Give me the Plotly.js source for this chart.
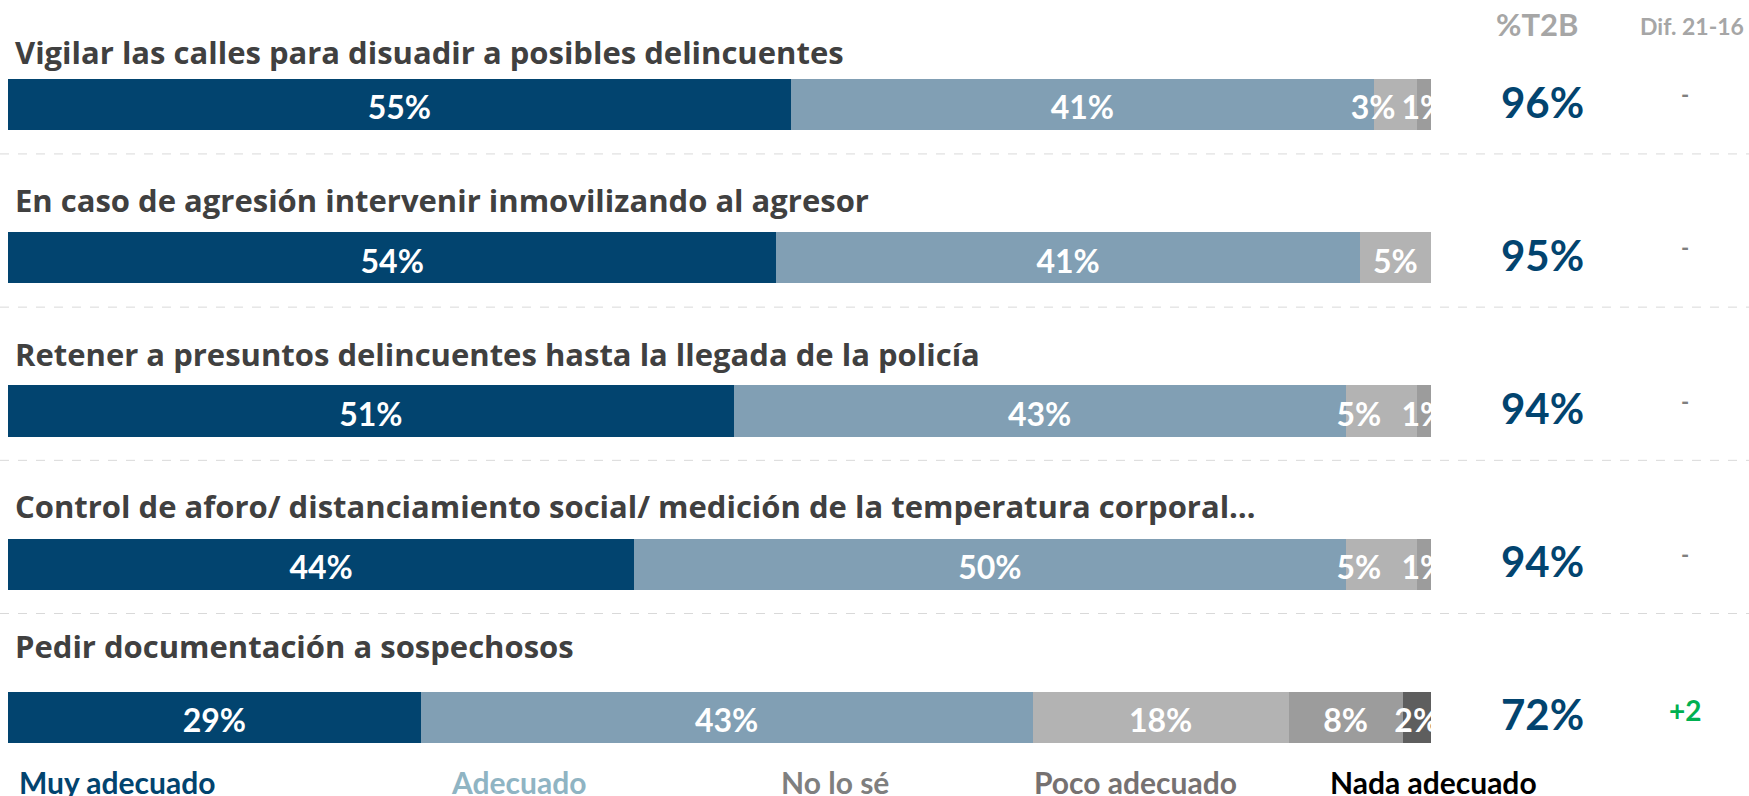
<!DOCTYPE html>
<html>
<head>
<meta charset="utf-8">
<script src="https://cdn.plot.ly/plotly-3.0.1.min.js"></script>
<style>
  html, body { margin: 0; padding: 0; background: #ffffff; }
  #chart { width: 1749px; height: 796px; }
</style>
</head>
<body>
<div id="chart"></div>
<script>
// ---- data ----
const categories = [
  "Vigilar las calles para disuadir a posibles delincuentes",
  "En caso de agresión intervenir inmovilizando al agresor",
  "Retener a presuntos delincuentes hasta la llegada de la policía",
  "Control de aforo/ distanciamiento social/ medición de la temperatura corporal…",
  "Pedir documentación a sospechosos"
];
const seriesNames = ["Muy adecuado", "Adecuado", "No lo sé", "Poco adecuado", "Nada adecuado"];
const muyAdecuado  = [55, 54, 51, 44, 29];
const adecuado     = [41, 41, 43, 50, 43];
const noLoSe       = [3, 5, 5, 5, 18];
const pocoAdecuado = [1, 0, 1, 1, 8];
const nadaAdecuado = [0, 0, 0, 0, 2];
const t2b = [96, 95, 94, 94, 72];
const dif = ["-", "-", "-", "-", "+2"];
const headerT2B = "%T2B";
const headerDif = "Dif. 21-16";

// ---- styling ----
const FONT = "Lato, 'Open Sans', sans-serif";
const TITLE_FONT = "'Open Sans', Lato, sans-serif";
const barColors = ["#02446F", "#819FB4", "#B3B3B3", "#9C9C9C", "#5E5E5E"];
const legendColors = ["#02446F", "#8FB4C3", "#7F7F7F", "#767171", "#000000"];
const labelPositions = [
  ["middle center","middle center","middle center","middle center","middle center"],
  ["middle center","middle center","middle center","middle center","middle center"],
  ["middle left","middle center","middle left","middle left","middle center"],
  ["middle center","middle center","middle center","middle center","middle center"],
  ["middle center","middle center","middle center","middle center","middle center"]
];
const titleShift = [53, 58, 57, 58, 71];
const legendX = [0.0773, 0.3584, 0.5812, 0.792, 1.0021];
const labelDrop = 0.045; // small downward nudge of value labels (axis units)

const allSeries = [muyAdecuado, adecuado, noLoSe, pocoAdecuado, nadaAdecuado];
const traces = [];

// stacked bars
allSeries.forEach((vals, s) => {
  traces.push({
    type: "bar", orientation: "h",
    y: categories, x: vals, name: seriesNames[s],
    marker: { color: barColors[s], line: { width: 0 } },
    hoverinfo: "x+name", showlegend: false
  });
});

// value labels (text traces clipped to the plot area), drawn on an overlaid linear axis
const cum = categories.map(() => 0);
allSeries.forEach((vals, s) => {
  const xs = [], ys = [], ts = [], ps = [];
  vals.forEach((v, i) => {
    if (v > 0) {
      xs.push(cum[i] + v / 2);
      ys.push(i + labelDrop);
      ts.push(v + "%");
      ps.push(labelPositions[s][i]);
    }
    cum[i] += v;
  });
  traces.push({
    type: "scatter", mode: "text", x: xs, y: ys, yaxis: "y2", text: ts,
    textposition: ps, cliponaxis: true, hoverinfo: "skip", showlegend: false,
    textfont: { family: FONT, size: 32, color: "#ffffff", weight: "bold" }
  });
});

const annotations = [];
categories.forEach((c, i) => {
  annotations.push({
    xref: "paper", yref: "y", x: 0.0035, y: i, yshift: titleShift[i],
    xanchor: "left", yanchor: "middle", showarrow: false, text: c,
    font: { family: TITLE_FONT, size: 31, color: "#404040", weight: "bold" }
  });
  annotations.push({
    xref: "paper", yref: "y", x: 1.0785, y: i, yshift: 3,
    xanchor: "center", yanchor: "middle", showarrow: false, text: t2b[i] + "%",
    font: { family: FONT, size: 42, color: "#02446F", weight: "bold" }
  });
  const isDash = dif[i] === "-";
  annotations.push({
    xref: "paper", yref: "y", x: 1.1785, y: i, yshift: isDash ? 10 : 7,
    xanchor: "center", yanchor: "middle", showarrow: false, text: dif[i],
    font: { family: FONT, size: isDash ? 22 : 28, color: isDash ? "#7F7F7F" : "#00B050", weight: "bold" }
  });
});
annotations.push({
  xref: "paper", yref: "paper", x: 1.0745, y: 1.005, xanchor: "center", yanchor: "middle",
  showarrow: false, text: headerT2B,
  font: { family: FONT, size: 31, color: "#A6A6A6", weight: "bold" }
});
annotations.push({
  xref: "paper", yref: "paper", x: 1.1834, y: 1.0026, xanchor: "center", yanchor: "middle",
  showarrow: false, text: headerDif,
  font: { family: FONT, size: 23, color: "#A6A6A6", weight: "bold" }
});
seriesNames.forEach((n, s) => {
  annotations.push({
    xref: "paper", yref: "paper", x: legendX[s], y: 0.016, xanchor: "center", yanchor: "middle",
    showarrow: false, text: n,
    font: { family: FONT, size: 30, color: legendColors[s], weight: "bold" }
  });
});

const shapes = [];
for (let i = 0; i < categories.length - 1; i++) {
  shapes.push({
    type: "line", xref: "paper", yref: "y",
    x0: -8 / 1423, x1: 1741 / 1423, y0: i + 0.322, y1: i + 0.322,
    line: { color: "#D9D9D9", width: 1, dash: "dash" }
  });
}

const layout = {
  width: 1749, height: 796,
  margin: { l: 8, r: 318, t: 28, b: 2, pad: 0 },
  paper_bgcolor: "#ffffff", plot_bgcolor: "#ffffff",
  barmode: "stack", bargap: 0.667,
  showlegend: false,
  xaxis: { range: [0, 100], visible: false, fixedrange: true },
  yaxis: {
    type: "category", categoryarray: categories, range: [4.5, -0.5],
    visible: false, fixedrange: true
  },
  yaxis2: {
    type: "linear", overlaying: "y", range: [4.5, -0.5],
    visible: false, fixedrange: true
  },
  annotations: annotations,
  shapes: shapes,
  font: { family: FONT }
};

Plotly.newPlot("chart", traces, layout, { displayModeBar: false, staticPlot: true });
</script>
</body>
</html>
